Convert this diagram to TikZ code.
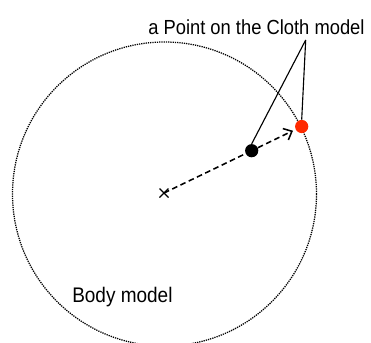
\documentclass[tikz,border=0pt]{standalone}
\usepackage{fontspec}
\setmainfont{Liberation Sans}
\newfontfamily\gothic[FakeStretch=0.9]{Liberation Sans}
\usetikzlibrary{arrows.meta, positioning, calc}
\definecolor{clothred}{HTML}{FF2A00}
\tikzset{
  body/.style={draw=black, line width=0.9pt, dash pattern=on 0.9pt off 0.7pt},
  bodypt/.style={circle, fill=black, inner sep=0pt, minimum size=0.33cm},
  clothpt/.style={circle, fill=clothred, inner sep=0pt, minimum size=0.33cm},
  move/.style={-{Straight Barb[length=5pt, width=9pt]}, line width=1.1pt, dash pattern=on 4pt off 2.5pt},
  pointer/.style={line width=0.8pt},
  caption/.style={inner sep=0pt, anchor=base west},
}

\begin{document}
\begin{tikzpicture}[x=0.025cm, y=-0.025cm]
  \useasboundingbox (0,0) rectangle (371,343);
  \begin{scope}
    \clip (0,0) rectangle (371,343);
    \draw[body] (164.5,194) circle[radius=152];
  \end{scope}
  \coordinate (ctr) at (164,193);
  \draw[line width=0.9pt] ($(ctr)+(-4.5,-4.5)$) -- ($(ctr)+(4.5,4.5)$)
                   ($(ctr)+(-4.5,4.5)$) -- ($(ctr)+(4.5,-4.5)$);
  \node[bodypt]  (bp) at (251.7,150.7) {};
  \node[clothpt] (cp) at (301.7,126.5) {};
  \draw[move, -] (ctr) -- (bp);
  \draw[move, shorten >=2pt] (bp) -- (cp);
  % label and its pointers
  \node[caption, font=\gothic\fontsize{14.5}{16}\selectfont] (lbl) at (148,34) {a Point on the Cloth model};
  \coordinate (tip) at (305.7,40);
  \draw[pointer] (bp.north) -- (tip);
  \draw[pointer] (cp.north) -- (tip);
  \node[caption, font=\gothic\fontsize{15}{16}\selectfont] (bm) at (72,302) {Body model};
\end{tikzpicture}
\end{document}
